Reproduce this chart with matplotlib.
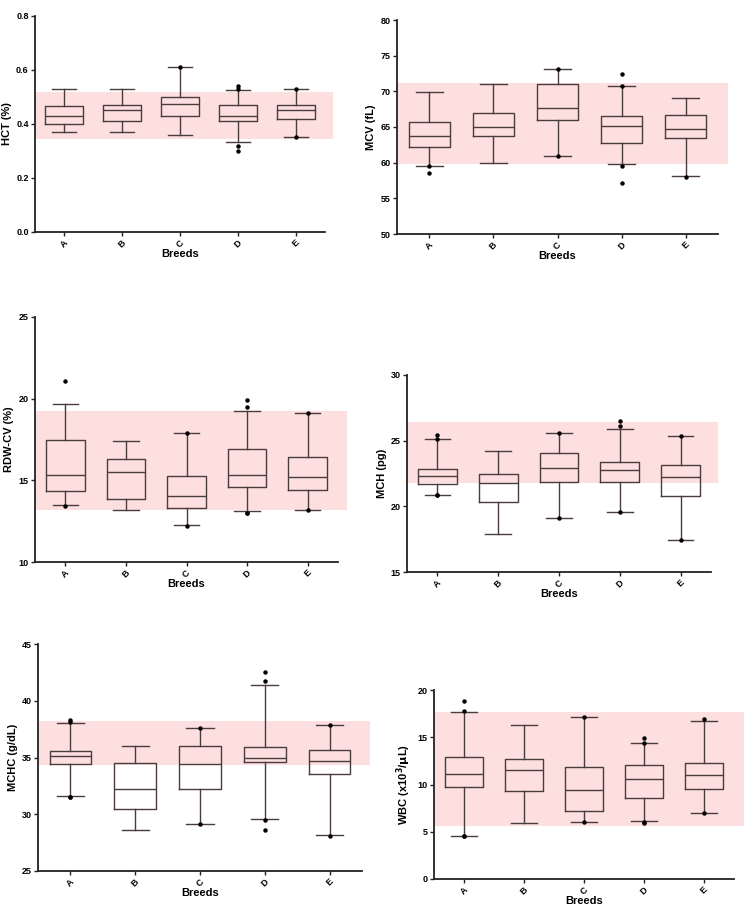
import matplotlib
matplotlib.use("Agg")
import matplotlib.pyplot as plt
from matplotlib.patches import Rectangle

plt.rcParams['font.family'] = ['Liberation Sans', 'DejaVu Sans']
plt.rcParams['font.weight'] = 'bold'

breeds = ["A", "B", "C", "D", "E"]

# Each stat list: [whislo, q1, med, q3, whishi] per breed
hct_stats = [[0.37, 0.40, 0.43, 0.465, 0.53],
             [0.37, 0.41, 0.45, 0.47, 0.53],
             [0.36, 0.43, 0.475, 0.50, 0.61],
             [0.335, 0.41, 0.43, 0.472, 0.527],
             [0.35, 0.42, 0.45, 0.47, 0.53]]
hct_fliers = [[], [], [0.61], [0.53, 0.54, 0.32, 0.30], [0.53, 0.35]]
hct_band = [0.343, 0.52]

mcv_stats = [[59.6, 62.2, 63.8, 65.7, 69.9],
             [59.9, 63.8, 65.0, 67.0, 71.0],
             [60.9, 66.0, 67.6, 71.0, 73.2],
             [59.8, 62.8, 65.1, 66.5, 70.7],
             [58.1, 63.4, 64.7, 66.7, 69.0]]
mcv_fliers = [[59.6, 58.5], [], [73.2, 60.9], [72.4, 70.7, 59.5, 57.2], [58.0]]
mcv_band = [59.8, 71.2]

rdw_stats = [[13.5, 14.36, 15.3, 17.5, 19.7],
             [13.2, 13.83, 15.5, 16.3, 17.4],
             [12.25, 13.3, 14.07, 15.24, 17.9],
             [13.1, 14.6, 15.35, 16.9, 19.25],
             [13.2, 14.43, 15.2, 16.4, 19.1]]
rdw_fliers = [[21.1, 13.4], [], [17.9, 12.2], [19.9, 19.5, 13.03, 13.03], [19.1, 13.2]]
rdw_band = [13.2, 19.25]

mch_stats = [[20.84, 21.73, 22.33, 22.87, 25.15],
             [17.93, 20.3, 21.8, 22.5, 24.18],
             [19.12, 21.85, 22.92, 24.03, 25.6],
             [19.58, 21.83, 22.76, 23.4, 25.88],
             [17.43, 20.82, 22.2, 23.12, 25.35]]
mch_fliers = [[25.4, 25.15, 20.84, 20.84], [], [25.6, 19.12], [26.53, 26.13, 19.58], [25.35, 17.43]]
mch_band = [21.75, 26.4]

mchc_stats = [[31.63, 34.4, 35.1, 35.57, 38.08],
              [28.6, 30.5, 32.19, 34.48, 36.0],
              [29.12, 32.22, 34.4, 36.0, 37.58],
              [29.62, 34.57, 35.0, 35.93, 41.35],
              [28.2, 33.51, 34.69, 35.66, 37.87]]
mchc_fliers = [[38.3, 38.17, 31.55, 31.55], [], [37.58, 29.12], [42.5, 41.76, 29.48, 28.6], [37.87, 28.09]]
mchc_band = [34.34, 38.25]

wbc_stats = [[4.5, 9.77, 11.08, 12.96, 17.66],
             [5.88, 9.35, 11.5, 12.74, 16.25],
             [6.0, 7.22, 9.45, 11.86, 17.13],
             [6.12, 8.53, 10.58, 12.1, 14.4],
             [7.0, 9.56, 11.04, 12.32, 16.67]]
wbc_fliers = [[18.87, 17.8, 4.5, 4.5], [], [17.13, 6.0], [14.94, 14.44, 6.05, 5.88], [16.96, 7.0]]
wbc_band = [5.6, 17.7]

W, H = 753, 916
fig = plt.figure(figsize=(W / 100, H / 100), dpi=100)

# panel: (stats, fliers, band, ylabel, ylim, yticks, yticklabels, axes px box, band right px)
panels = [
    (hct_stats, hct_fliers, hct_band, "HCT (%)", (0, 0.8), [0, 0.2, 0.4, 0.6, 0.8],
     ["0.0", "0.2", "0.4", "0.6", "0.8"], (35, 325, 16, 232), 333),
    (mcv_stats, mcv_fliers, mcv_band, "MCV (fL)", (50, 80), [50, 55, 60, 65, 70, 75, 80],
     None, (397, 718, 20, 234), 728),
    (rdw_stats, rdw_fliers, rdw_band, "RDW-CV (%)", (10, 25), [10, 15, 20, 25],
     None, (35, 338, 317, 562), 347),
    (mch_stats, mch_fliers, mch_band, "MCH (pg)", (15, 30), [15, 20, 25, 30],
     None, (407, 711, 375, 572), 718),
    (mchc_stats, mchc_fliers, mchc_band, "MCHC (g/dL)", (25, 45), [25, 30, 35, 40, 45],
     None, (38, 362, 644, 871), 370),
    (wbc_stats, wbc_fliers, wbc_band, r"WBC (x10$^{\mathbf{3}}$/$\mathbf{\mu}$L)", (0, 20), [0, 5, 10, 15, 20],
     None, (434, 734, 690, 879), 744),
]

edge = "#4a3c3c"
for stats, fliers, band, ylabel, ylim, yticks, yticklabels, (l, r, t, b), bandr in panels:
    ax = fig.add_axes([l / W, 1 - b / H, (r - l) / W, (b - t) / H])
    bxp_stats = []
    for i, s in enumerate(stats):
        bxp_stats.append(dict(whislo=s[0], q1=s[1], med=s[2], q3=s[3], whishi=s[4],
                              fliers=fliers[i], label=breeds[i]))
    ax.bxp(bxp_stats, positions=range(1, 6), widths=0.64, showfliers=True,
           boxprops=dict(color=edge, linewidth=1.0),
           medianprops=dict(color=edge, linewidth=1.0),
           whiskerprops=dict(color=edge, linewidth=1.0),
           capprops=dict(color=edge, linewidth=1.0),
           capwidths=0.42,
           flierprops=dict(marker='o', markersize=2.2, markerfacecolor='black',
                           markeredgecolor='black', linestyle='none'))
    ax.set_xlim(0.5, 5.5)
    ax.set_ylim(*ylim)
    # reference band spanning slightly past the axis end
    x0 = 0.0
    x1 = (bandr - l) / (r - l)
    y0 = (band[0] - ylim[0]) / (ylim[1] - ylim[0])
    y1 = (band[1] - ylim[0]) / (ylim[1] - ylim[0])
    ax.add_patch(Rectangle((x0, y0), x1 - x0, y1 - y0, transform=ax.transAxes,
                           facecolor="#fddfdf", edgecolor='none', zorder=0, clip_on=False))
    ax.set_yticks(yticks)
    if yticklabels:
        ax.set_yticklabels(yticklabels)
    ax.set_xticks(range(1, 6))
    ax.set_xticklabels(breeds, rotation=45, ha='center')
    for sp in ['top', 'right']:
        ax.spines[sp].set_visible(False)
    for sp in ['left', 'bottom']:
        ax.spines[sp].set_linewidth(1.3)
        ax.spines[sp].set_color('#222222')
    ax.tick_params(axis='both', labelsize=6.5, width=1.0, length=3, color='#222222', pad=1.5)
    for lab in ax.get_xticklabels() + ax.get_yticklabels():
        lab.set_fontweight('bold')
    ax.set_xlabel("Breeds", fontsize=8, fontweight='bold', labelpad=0)
    ax.set_ylabel(ylabel, fontsize=8, fontweight='bold', labelpad=3)
    ax.set_facecolor('none')

fig.savefig("out.png", dpi=100)
